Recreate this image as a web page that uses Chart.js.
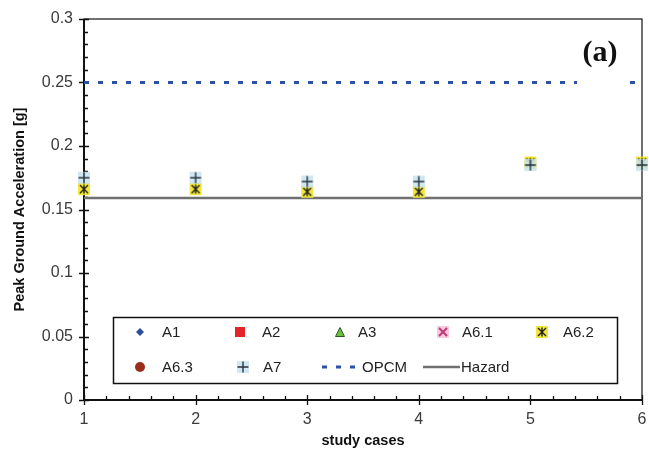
<!DOCTYPE html>
<html>
<head>
<meta charset="utf-8">
<script src="https://cdn.jsdelivr.net/npm/chart.js@4.4.1/dist/chart.umd.min.js"></script>
<style>
  html, body { margin: 0; padding: 0; background: #fff; }
  #wrap { width: 649px; height: 450px; }
</style>
</head>
<body>
<div id="wrap"><canvas id="c" width="649" height="450"></canvas></div>
<script>
// Study cases on the horizontal axis
const cases = [1, 2, 3, 4, 5, 6];
const xTicks = [1, 2, 3, 4, 5, 6];
const yTicks = [0, 0.05, 0.1, 0.15, 0.2, 0.25, 0.3];

// Peak ground acceleration per model [g]
const a1 = [];
const a2 = [];
const a3 = [];
const a61 = [];
const a62 = [0.166, 0.166, 0.164, 0.164, 0.187, 0.187];
const a63 = [];
const a7 = [0.175, 0.175, 0.172, 0.172, 0.185, 0.185];

// Reference levels [g]
const opcm = 0.25;
const hazard = 0.159;

const FONT = '"Liberation Sans", Arial, sans-serif';

function pts(vals) { return vals.map((v, i) => ({ x: cases[i], y: v })); }
function flat(v) { return [{ x: cases[0], y: v }, { x: cases[cases.length - 1], y: v }]; }

// Marker images
function marker(size, draw) {
  const c = document.createElement('canvas');
  c.width = size; c.height = size;
  const g = c.getContext('2d');
  draw(g, size);
  return c;
}
const mkA1 = marker(10, (g, s) => {
  g.fillStyle = '#2b4f9c';
  g.beginPath(); g.moveTo(s/2, 1); g.lineTo(s-1, s/2); g.lineTo(s/2, s-1); g.lineTo(1, s/2); g.closePath(); g.fill();
});
const mkA2 = marker(12, (g, s) => {
  g.fillStyle = '#e3242b'; g.fillRect(1, 1, s-2, s-2);
});
const mkA3 = marker(12, (g, s) => {
  g.fillStyle = '#6cbf3f'; g.strokeStyle = '#2d5a1c'; g.lineWidth = 1;
  g.beginPath(); g.moveTo(s/2, 1.5); g.lineTo(s-1.5, s-1.5); g.lineTo(1.5, s-1.5); g.closePath(); g.fill(); g.stroke();
});
const mkA61 = marker(14, (g, s) => {
  g.fillStyle = '#f6c9dd'; g.fillRect(1, 1, s-2, s-2);
  g.strokeStyle = '#c2377a'; g.lineWidth = 2;
  g.beginPath(); g.moveTo(3, 3); g.lineTo(s-3, s-3); g.moveTo(s-3, 3); g.lineTo(3, s-3); g.stroke();
});
const mkA62 = marker(14, (g, s) => {
  g.fillStyle = '#f2e63a'; g.fillRect(1, 1, s-2, s-2);
  g.strokeStyle = '#222'; g.lineWidth = 1.4;
  g.beginPath();
  g.moveTo(3, 3); g.lineTo(s-3, s-3); g.moveTo(s-3, 3); g.lineTo(3, s-3);
  g.moveTo(s/2, 2.5); g.lineTo(s/2, s-2.5);
  g.stroke();
});
const mkA63 = marker(12, (g, s) => {
  g.fillStyle = '#9a2c1c';
  g.beginPath(); g.arc(s/2, s/2, s/2 - 1, 0, Math.PI*2); g.fill();
});
const mkA7 = marker(16, (g, s) => {
  g.fillStyle = 'rgba(200,228,238,0.85)'; g.fillRect(2, 2, s-4, s-4);
  g.strokeStyle = '#2a3340'; g.lineWidth = 1.4;
  g.beginPath(); g.moveTo(s/2, 2.5); g.lineTo(s/2, s-2.5); g.moveTo(2.5, s/2); g.lineTo(s-2.5, s/2); g.stroke();
});

// Frame and tick marks around the plot area
const framePlugin = {
  id: 'frame',
  beforeDatasetsDraw(chart) {
    const { ctx, chartArea: a, scales } = chart;
    ctx.save();
    ctx.strokeStyle = '#111';
    ctx.lineWidth = 1.2;
    ctx.strokeRect(a.left, a.top, a.right - a.left, a.bottom - a.top);
    ctx.lineWidth = 2;
    ctx.beginPath();
    ctx.moveTo(a.left, a.top); ctx.lineTo(a.left, a.bottom); ctx.lineTo(a.right, a.bottom);
    ctx.stroke();
    ctx.lineWidth = 1.3;
    ctx.beginPath();
    for (let k = 0; k <= 30; k++) {
      const y = Math.round(scales.y.getPixelForValue(k / 100)) + 0.5;
      if (k % 5 === 0) { ctx.moveTo(a.left - 5, y); ctx.lineTo(a.left + 5, y); }
      else { ctx.moveTo(a.left, y); ctx.lineTo(a.left + 4, y); }
    }
    for (let k = 0; k <= 25; k++) {
      const x = Math.round(scales.x.getPixelForValue(1 + k * 0.2)) + 0.5;
      if (k % 5 === 0) { ctx.moveTo(x, a.bottom + 5); ctx.lineTo(x, a.bottom - 5); }
      else { ctx.moveTo(x, a.bottom); ctx.lineTo(x, a.bottom - 4); }
    }
    ctx.stroke();
    ctx.restore();
  },
  afterDatasetsDraw(chart) {
    const { ctx } = chart;
    ctx.save();
    // panel label
    ctx.fillStyle = '#fff';
    ctx.fillRect(577, 35, 49, 50);
    ctx.fillStyle = '#111';
    ctx.font = 'bold 30px "Liberation Serif", "Times New Roman", serif';
    ctx.textAlign = 'center';
    ctx.textBaseline = 'middle';
    ctx.fillText('(a)', 600, 53);

    // legend box
    const bx = 113, by = 317, bw = 504, bh = 66;
    ctx.fillStyle = '#fff';
    ctx.fillRect(bx, by, bw, bh);
    ctx.strokeStyle = '#111';
    ctx.lineWidth = 1.5;
    ctx.strokeRect(bx + 0.5, by + 0.5, bw, bh);

    const ds = chart.data.datasets;
    const byLabel = {};
    ds.forEach(d => byLabel[d.label] = d);
    const row1 = 332, row2 = 367;
    const entries = [
      ['A1', 140, 162, row1], ['A2', 240, 262, row1], ['A3', 340, 358, row1],
      ['A6.1', 443, 462, row1], ['A6.2', 542, 563, row1],
      ['A6.3', 140, 162, row2], ['A7', 243, 263, row2]
    ];
    ctx.font = '15px ' + FONT;
    ctx.textAlign = 'left';
    ctx.textBaseline = 'middle';
    entries.forEach(([lab, mx, tx, ty]) => {
      const img = byLabel[lab].pointStyle;
      ctx.drawImage(img, Math.round(mx - img.width / 2), Math.round(ty - img.height / 2));
      ctx.fillStyle = '#222';
      ctx.fillText(lab, tx, ty + 1);
    });
    // line entries
    const op = byLabel['OPCM'];
    ctx.strokeStyle = op.borderColor;
    ctx.lineWidth = op.borderWidth;
    ctx.setLineDash(op.borderDash);
    ctx.beginPath(); ctx.moveTo(322, row2); ctx.lineTo(360, row2); ctx.stroke();
    ctx.setLineDash([]);
    ctx.fillStyle = '#222';
    ctx.fillText('OPCM', 362, row2 + 1);
    const hz = byLabel['Hazard'];
    ctx.strokeStyle = hz.borderColor;
    ctx.lineWidth = hz.borderWidth;
    ctx.beginPath(); ctx.moveTo(423, row2); ctx.lineTo(460, row2); ctx.stroke();
    ctx.fillText('Hazard', 461, row2 + 1);
    ctx.restore();
  }
};

const scatterSet = (label, vals, img, order) => ({
  label, data: pts(vals), pointStyle: img, pointRadius: 6, pointHoverRadius: 6,
  showLine: false, clip: false, order
});

new Chart(document.getElementById('c'), {
  type: 'scatter',
  data: {
    datasets: [
      scatterSet('A1', a1, mkA1, 7),
      scatterSet('A2', a2, mkA2, 6),
      scatterSet('A3', a3, mkA3, 5),
      scatterSet('A6.1', a61, mkA61, 4),
      scatterSet('A6.2', a62, mkA62, 2),
      scatterSet('A6.3', a63, mkA63, 3),
      scatterSet('A7', a7, mkA7, 1),
      { label: 'OPCM', data: flat(opcm), showLine: true, pointRadius: 0, borderColor: '#2f50a8',
        borderWidth: 3, borderDash: [5, 9], clip: false, order: 10 },
      { label: 'Hazard', data: flat(hazard), showLine: true, pointRadius: 0, borderColor: '#707070',
        borderWidth: 2.5, clip: false, order: 9 }
    ]
  },
  options: {
    responsive: false,
    animation: false,
    events: [],
    layout: { padding: { top: 19, right: 4, left: 0, bottom: 0 } },
    plugins: { legend: { display: false }, tooltip: { enabled: false } },
    scales: {
      x: {
        type: 'linear', min: 1, max: 6,
        afterBuildTicks: s => { s.ticks = xTicks.map(v => ({ value: v })); },
        afterFit: s => { s.height = 50; s.paddingLeft = 0; s.paddingRight = 0; },
        grid: { display: false, drawTicks: false },
        border: { display: false },
        ticks: { padding: 10, color: '#3a3a3a', font: { family: FONT, size: 16 } },
        title: { display: true, text: 'study cases', color: '#111', padding: { top: 3, bottom: 0 },
                 font: { family: FONT, size: 14.5, weight: 'bold' } }
      },
      y: {
        min: 0, max: 0.3,
        afterBuildTicks: s => { s.ticks = yTicks.map(v => ({ value: v })); },
        afterFit: s => { s.width = 84; s.paddingTop = 0; s.paddingBottom = 0; },
        grid: { display: false, drawTicks: false },
        border: { display: false },
        ticks: { padding: 11, color: '#3a3a3a', font: { family: FONT, size: 16 },
                 callback: v => String(+v.toFixed(2)) },
        title: { display: true, text: 'Peak Ground Acceleration [g]', color: '#111',
                 padding: { top: 11, bottom: 0 }, font: { family: FONT, size: 14.5, weight: 'bold' } }
      }
    }
  },
  plugins: [framePlugin]
});
</script>
</body>
</html>
